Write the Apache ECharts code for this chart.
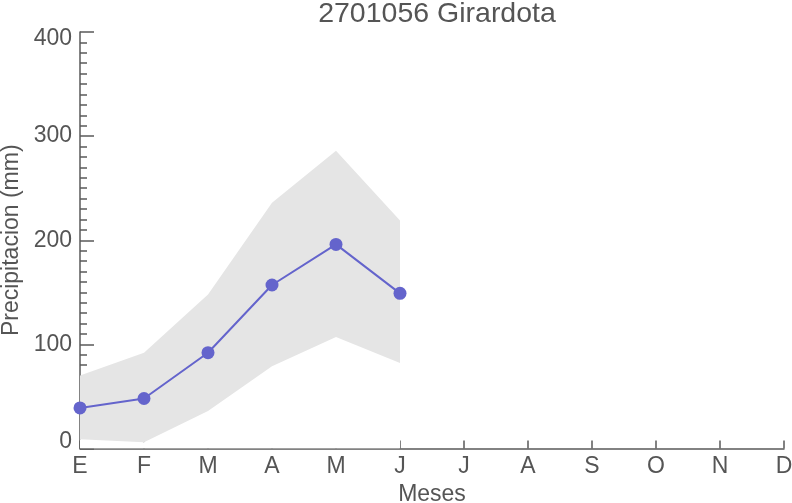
<!DOCTYPE html>
<html>
<head>
<meta charset="utf-8">
<script src="https://cdn.jsdelivr.net/npm/echarts@6/dist/echarts.min.js"></script>
<style>
html,body{margin:0;padding:0;background:#fff;}
#chart{width:792px;height:503px;}
</style>
</head>
<body>
<div id="chart"></div>
<script>
const months = ['E','F','M','A','M','J','J','A','S','O','N','D'];
const meanVals  = [39, 48, 92, 157, 196, 149];
const upperVals = [70, 92, 148, 236, 286, 219];
const lowerVals = [9, 6, 36, 79, 107, 82];
const yTicks = [0, 100, 200, 300, 400];

const bandDiff = upperVals.map((u, i) => u - lowerVals[i]);
const txt = '#555555';
const axisCol = '#5a5a5a';
const font = 'Liberation Sans';

const chart = echarts.init(document.getElementById('chart'), null, {renderer: 'canvas'});
chart.setOption({
  animation: false,
  backgroundColor: '#ffffff',
  title: {
    text: '2701056 Girardota',
    left: 432, top: -5, textAlign: 'center',
    textStyle: {fontFamily: font, fontSize: 28.5, fontWeight: 'normal', color: txt}
  },
  grid: {left: 80, right: 8, top: 32, bottom: 54.5, containLabel: false, outerBoundsMode: 'none'},
  xAxis: {
    type: 'category',
    data: months,
    boundaryGap: false,
    name: 'Meses',
    nameLocation: 'middle',
    nameGap: 33,
    nameTextStyle: {fontFamily: font, fontSize: 23, color: txt},
    axisLine: {lineStyle: {color: axisCol, width: 1.5}},
    axisTick: {inside: true, length: 8, lineStyle: {color: axisCol, width: 1.5}},
    axisLabel: {fontFamily: font, fontSize: 23, color: txt, margin: 7, interval: 0},
    splitLine: {show: false}
  },
  yAxis: {
    type: 'value',
    min: yTicks[0], max: yTicks[yTicks.length - 1], interval: 100,
    name: 'Precipitacion (mm)',
    nameLocation: 'middle',
    nameGap: 56,
    nameTextStyle: {fontFamily: font, fontSize: 23, color: txt},
    axisLine: {show: true, lineStyle: {color: axisCol, width: 1.5}},
    axisTick: {show: true, inside: true, length: 14, lineStyle: {color: axisCol, width: 1.5}},
    minorTick: {show: true, splitNumber: 10, length: 7, lineStyle: {color: axisCol, width: 1.5}},
    axisLabel: {
      fontFamily: font, fontSize: 23, color: txt, margin: 8, lineHeight: 14,
      verticalAlignMinLabel: 'bottom', verticalAlignMaxLabel: 'top'
    },
    splitLine: {show: false}
  },
  series: [
    {
      type: 'line', stack: 'band', data: lowerVals,
      symbol: 'none', lineStyle: {opacity: 0, width: 0},
      areaStyle: {color: '#ffffff', opacity: 1}, silent: true, z: 2
    },
    {
      type: 'line', stack: 'band', data: bandDiff,
      symbol: 'none', lineStyle: {opacity: 0, width: 0},
      areaStyle: {color: '#e5e5e5', opacity: 1}, silent: true, z: 2
    },
    {
      type: 'line', data: meanVals,
      symbol: 'circle', symbolSize: 13,
      lineStyle: {color: '#6464cc', width: 2},
      itemStyle: {color: '#6464cc'}, z: 3
    }
  ]
});
</script>
</body>
</html>
